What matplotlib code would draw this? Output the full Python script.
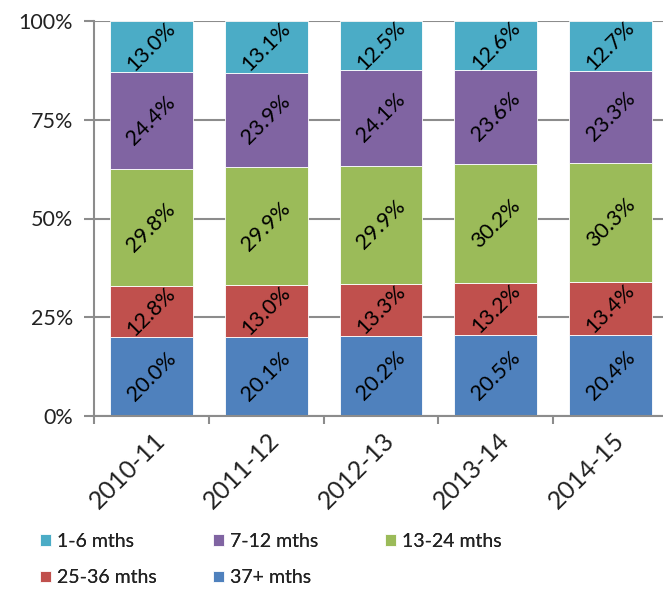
import matplotlib

matplotlib.use("Agg")
import matplotlib.pyplot as plt
from matplotlib.ticker import FuncFormatter
from matplotlib.transforms import ScaledTranslation

plt.rcParams["font.family"] = ["Lato", "DejaVu Sans"]

years = ["2010-11", "2011-12", "2012-13", "2013-14", "2014-15"]
series_names = ["37+ mths", "25-36 mths", "13-24 mths", "7-12 mths", "1-6 mths"]
share_37plus = [20.0, 20.1, 20.2, 20.5, 20.4]
share_25_36 = [12.8, 13.0, 13.3, 13.2, 13.4]
share_13_24 = [29.8, 29.9, 29.9, 30.2, 30.3]
share_7_12 = [24.4, 23.9, 24.1, 23.6, 23.3]
share_1_6 = [13.0, 13.1, 12.5, 12.6, 12.7]

COLORS = ["#4f81bd", "#c0504d", "#9bbb59", "#8064a2", "#4bacc6"]
GRID = "#8c8c8c"
TEXT = "#222222"
W, H = 663, 590

fig = plt.figure(figsize=(W / 100, H / 100), dpi=100)
ax = fig.add_axes([94 / W, 1 - 416 / H, (668 - 94) / W, (416 - 21) / H])

x = list(range(len(years)))
bottom = [0.0] * len(years)
bars = {}
for name, vals, color in zip(
    series_names,
    [share_37plus, share_25_36, share_13_24, share_7_12, share_1_6],
    COLORS,
):
    bars[name] = ax.bar(x, vals, width=0.72, bottom=bottom, color=color,
                        edgecolor="white", linewidth=0.6, zorder=2)
    for xi, b, v in zip(x, bottom, vals):
        ax.text(xi, b + v / 2, f"{v:.1f}%", rotation=45, ha="center",
                va="center", fontsize=15.5, color="black", zorder=3)
    bottom = [b + v for b, v in zip(bottom, vals)]

ax.set_xlim(-0.5, len(years) - 0.5)
ax.set_ylim(0, 100)
ax.set_yticks([0, 25, 50, 75, 100])
ax.yaxis.set_major_formatter(FuncFormatter(lambda v, _: f"{v:.0f}%"))
ax.yaxis.grid(True, color=GRID, linewidth=1.5, zorder=0)
ax.set_axisbelow(True)

ax.set_xticks(x)
ax.set_xticklabels(years, rotation=45, ha="right", va="center",
                   rotation_mode="anchor", fontsize=18, color=TEXT)
ax.set_xticks([i - 0.5 for i in range(len(years) + 1)], minor=True)
ax.tick_params(axis="x", which="major", length=0, pad=15)
ax.tick_params(axis="x", which="minor", length=6, width=1.5, color=GRID)
ax.tick_params(axis="y", length=7, width=1.5, color=GRID, labelsize=15.5,
               labelcolor=TEXT, pad=8)
# nudge the slanted year labels a little to the right of the bar centres
nudge = ScaledTranslation(7 / 72, 0, fig.dpi_scale_trans)
for lbl in ax.get_xticklabels():
    lbl.set_transform(lbl.get_transform() + nudge)

for side in ("top", "right"):
    ax.spines[side].set_visible(False)
for side in ("left", "bottom"):
    ax.spines[side].set_color(GRID)
    ax.spines[side].set_linewidth(1.5)

# legend laid out row by row: one single-column legend per column
columns = [["1-6 mths", "25-36 mths"], ["7-12 mths", "37+ mths"], ["13-24 mths"]]
col_left = [40, 213, 385]
for names, left in zip(columns, col_left):
    leg = fig.legend([bars[n] for n in names], names, ncol=1, frameon=False,
                     loc="upper left", bbox_to_anchor=(left / W, 1 - 533 / H),
                     fontsize=14, handlelength=0.55, handleheight=0.55,
                     handletextpad=0.3, labelspacing=1.0, borderpad=0,
                     borderaxespad=0, labelcolor=TEXT)
    fig.add_artist(leg)

fig.savefig("out.png")
